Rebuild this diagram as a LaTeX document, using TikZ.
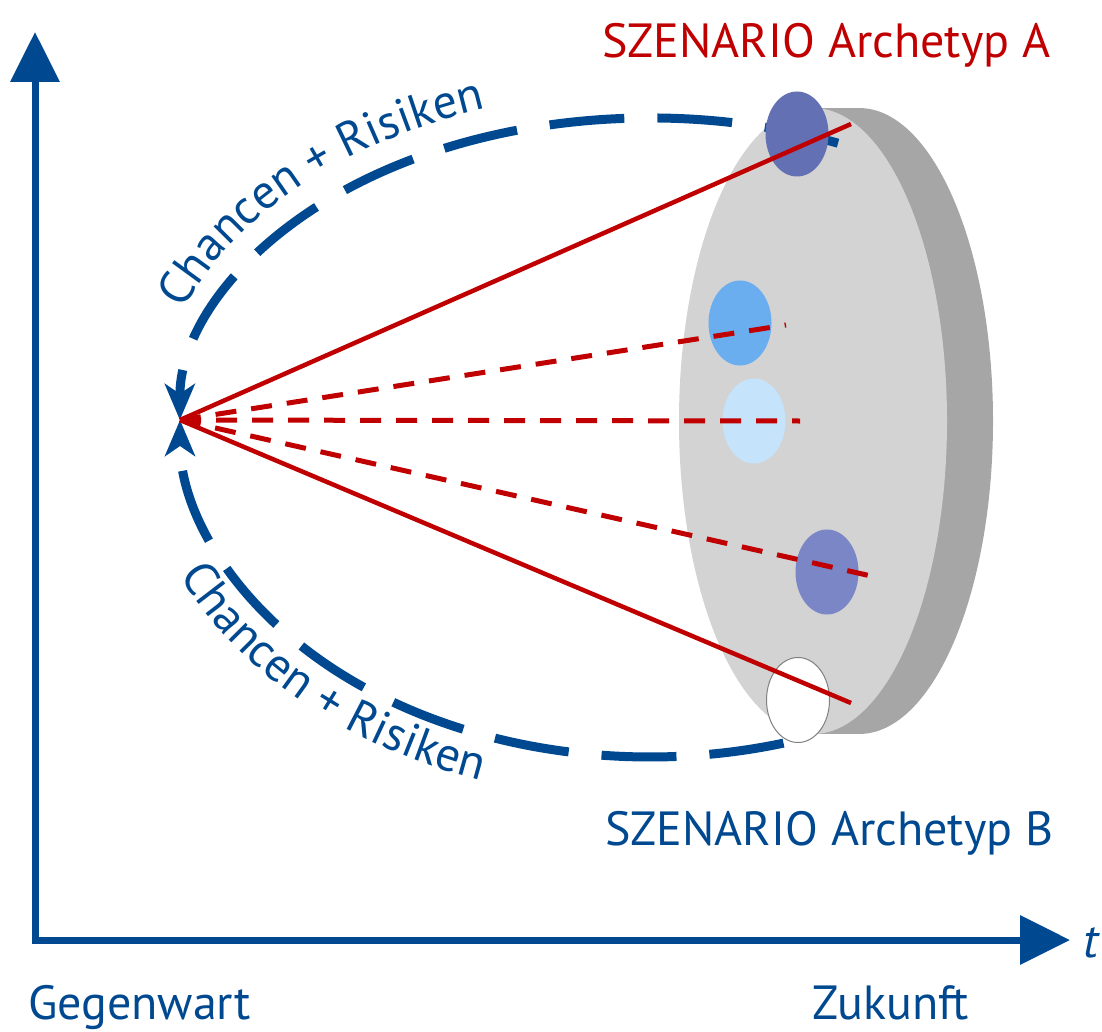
\documentclass[tikz,border=0pt]{standalone}
\usepackage{fontspec}
\setmainfont{PT Sans}
\newfontfamily\labelfont{PT Sans}
\usetikzlibrary{arrows.meta,shapes.geometric,decorations.text}
\definecolor{axisblue}{HTML}{004990}
\definecolor{scenred}{HTML}{C00000}
\definecolor{facegray}{HTML}{D3D3D3}
\definecolor{rimgray}{HTML}{A6A6A6}
\definecolor{blobA}{HTML}{6371B4}
\definecolor{blobMid}{HTML}{6AAEEF}
\definecolor{blobPale}{HTML}{C5E3FB}
\definecolor{blobB}{HTML}{7A86C6}
\tikzset{
  axisline/.style={draw=axisblue, line width=7pt, line join=miter,
    {Triangle[length=50pt,width=48pt]}-{Triangle[length=50pt,width=48pt]}},
  flow/.style={draw=axisblue, line width=9pt, dash pattern=on 75pt off 33pt,
    -{Stealth[length=36pt,width=30pt,inset=10pt]}},
  pathsolid/.style={draw=scenred, line width=4.5pt},
  pathdashed/.style={draw=scenred, line width=5pt, dash pattern=on 21pt off 15pt},
  blob/.style={ellipse, minimum width=63pt, minimum height=85pt, inner sep=0pt},
  tagtext/.style={font=\labelfont\fontsize{48}{58}\selectfont, inner sep=0pt, anchor=base west},
}
\begin{document}
\begin{tikzpicture}[x=1pt,y=-1pt]
\useasboundingbox (0,0) rectangle (1102,1032);

% axes
\coordinate (origin) at (35,940);
\coordinate (ytip) at (35,32);
\coordinate (xtip) at (1070,940);
\draw[axisline] (ytip) -- (origin) -- (xtip);

% disk of future scenarios (rim + front face)
\fill[rimgray] (813,108) rectangle (859,734);
\fill[rimgray] (859,421) ellipse[x radius=134, y radius=313];
\fill[facegray] (813,421) ellipse[x radius=134, y radius=313];

% funnel arcs back to the present
\coordinate (apex) at (180,420);
\draw[flow] (838,143.2) arc[start angle=-66.4, end angle=-180, x radius=470, y radius=302];
\draw[flow] (783.5,743.1) arc[start angle=73.5, end angle=180, x radius=470, y radius=337];

% arc labels
\path[decorate, decoration={text along path, text color=axisblue,
  text={|\labelfont\fontsize{48}{58}\selectfont|Chancen + Risiken}}]
  (650,420) ++(-160.5:495 and 330) arc[start angle=-160.5, end angle=-60, x radius=495, y radius=330];
\path[decorate, decoration={text along path, text color=axisblue,
  text={|\labelfont\fontsize{48}{58}\selectfont|Chancen + Risiken}}]
  (650,420) ++(156:515 and 382) arc[start angle=156, end angle=95, x radius=515, y radius=382];

% scenario points
\node[blob, fill=blobA] (sA) at (797,134) {};
\node[blob, fill=blobMid] (s1) at (740,323) {};
\node[blob, fill=blobPale] (s2) at (754,421) {};
\node[blob, fill=blobB] (s3) at (827,572) {};
\node[blob, fill=white, draw=gray, line width=1pt] (sB) at (798,700) {};

% scenario paths
\coordinate (endA) at (851,124);
\coordinate (end1) at (786,325);
\coordinate (end2) at (800,421);
\coordinate (end3) at (880,578);
\coordinate (endB) at (851,703);
\draw[pathsolid] (apex) -- (endA);
\draw[pathdashed] (apex) -- (end1);
\draw[pathdashed] (apex) -- (end2);
\draw[pathdashed] (apex) -- (end3);
\draw[pathsolid] (apex) -- (endB);

% texts
\node[tagtext, text=scenred] (tA) at (602,58) {SZENARIO Archetyp A};
\node[tagtext, text=axisblue] (tB) at (605,845) {SZENARIO Archetyp B};
\node[tagtext, text=axisblue] (now) at (28,1019) {Gegenwart};
\node[tagtext, text=axisblue] (future) at (812,1019) {Zukunft};
\node[tagtext, text=axisblue, font=\labelfont\itshape\fontsize{48}{58}\selectfont] (taxis) at (1083,957) {t};
\end{tikzpicture}
\end{document}
